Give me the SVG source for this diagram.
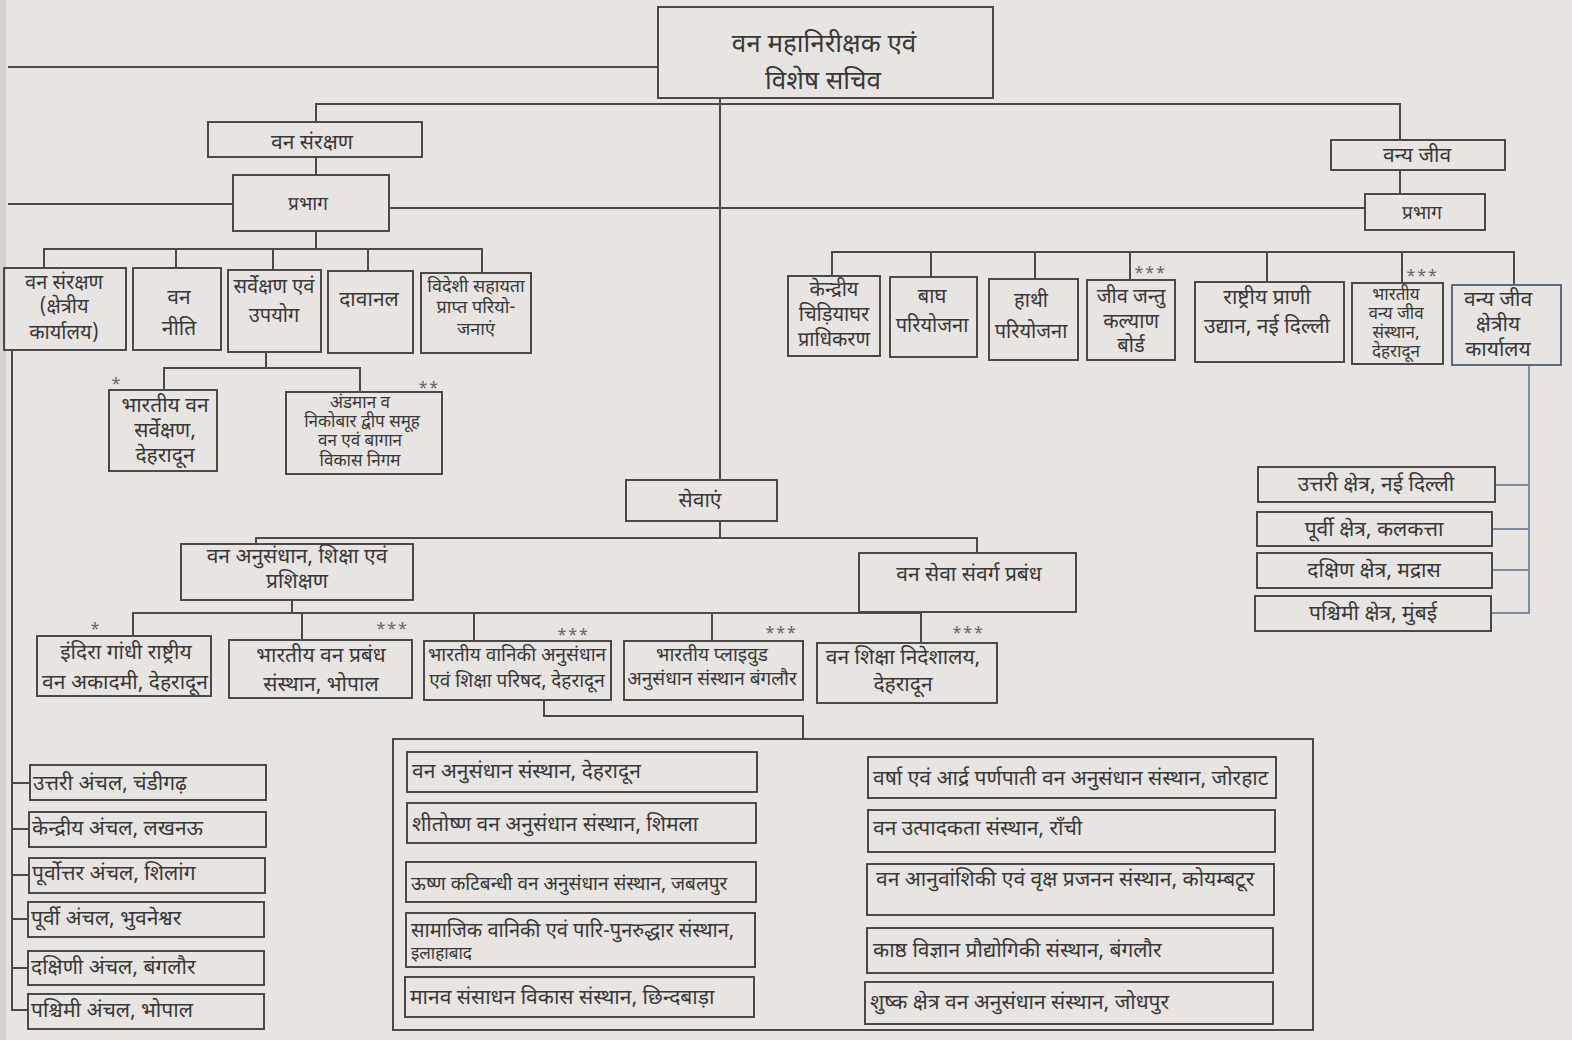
<svg xmlns="http://www.w3.org/2000/svg" width="1572" height="1040" viewBox="0 0 1572 1040">
<style>
.bg{fill:#e7e4e1}
.b{fill:none;stroke:#4a4a4a;stroke-width:2}
.bb{fill:none;stroke:#5e6a7a;stroke-width:2}
.l{fill:none;stroke:#4a4a4a;stroke-width:2}
.lb{fill:none;stroke:#7d8ca3;stroke-width:2}
text{font-family:"Noto Sans Devanagari","Lohit Devanagari","Mukta","Noto Sans",sans-serif;fill:#383838;font-size:21px}
.c{text-anchor:middle}
.big{font-size:26px}
.m{font-size:20px}
.n{font-size:19px}
.r{font-size:18px}
.s{font-size:17px}
.t{font-size:17px}
.st{font-size:16px;fill:#666;letter-spacing:1px}
</style>
<rect class="bg" x="0" y="0" width="1572" height="1040"/>
<rect x="0" y="0" width="6" height="1040" fill="#d6d3d0"/>

<g id="connectors">
<path class="l" d="M8 67 H658"/>
<path class="l" d="M720 98 V480"/>
<path class="l" d="M316 122 V104 H1400 V140"/>
<path class="l" d="M316 157 V175"/>
<path class="l" d="M8 204 H233"/>
<path class="l" d="M389 208 H1365"/>
<path class="l" d="M1400 170 V194"/>
<path class="l" d="M316 231 V249"/>
<path class="l" d="M44 268 V249 H482 V273"/>
<path class="l" d="M176 249 V268 M273 249 V270 M368 249 V271"/>
<path class="l" d="M266 352 V368"/>
<path class="l" d="M164 390 V368 H360 V392"/>
<path class="l" d="M12 350 V1010 H28"/>
<path class="l" d="M12 783 H30 M12 829 H29 M12 875 H29 M12 919 H28 M12 968 H28"/>
<path class="l" d="M720 521 V538"/>
<path class="l" d="M256 544 V538 H977 V553"/>
<path class="l" d="M292 600 V613"/>
<path class="l" d="M133 636 V613 H921 V643"/>
<path class="l" d="M302 613 V640 M474 613 V641 M712 613 V641"/>
<path class="l" d="M544 700 V716 H803 V739"/>
<path class="l" d="M832 276 V252 H1514 V285"/>
<path class="l" d="M931 252 V277 M1035 252 V279 M1130 252 V280 M1267 252 V282 M1402 252 V283"/>
<path class="lb" d="M1529 365 V613 H1491"/>
<path class="lb" d="M1495 485 H1529 M1492 529 H1529 M1492 570 H1529"/>
</g>

<g id="n-top"><rect class="b" x="658" y="7" width="335" height="91"/>
<text class="c big" x="824" y="52">वन महानिरीक्षक एवं</text>
<text class="c big" x="823" y="89">विशेष सचिव</text></g>

<g id="n-vansanrakshan"><rect class="b" x="208" y="122" width="214" height="35"/>
<text class="c" x="312" y="149">वन संरक्षण</text></g>
<g id="n-prabhag1"><rect class="b" x="233" y="175" width="156" height="56"/>
<text class="c n" x="308" y="210">प्रभाग</text></g>

<g id="n-vanyajeev"><rect class="b" x="1331" y="140" width="174" height="30"/>
<text class="c" x="1417" y="162">वन्य जीव</text></g>
<g id="n-prabhag2"><rect class="b" x="1365" y="194" width="120" height="36"/>
<text class="c n" x="1422" y="219">प्रभाग</text></g>

<g id="n-kshetriya"><rect class="b" x="4" y="268" width="122" height="82"/>
<text class="c m" x="64" y="289">वन संरक्षण</text>
<text class="c m" x="64" y="313">(क्षेत्रीय</text>
<text class="c m" x="64" y="339">कार्यालय)</text></g>
<g id="n-neeti"><rect class="b" x="133" y="268" width="88" height="82"/>
<text class="c" x="179" y="304">वन</text>
<text class="c" x="179" y="335">नीति</text></g>
<g id="n-sarvekshan"><rect class="b" x="228" y="270" width="93" height="82"/>
<text class="c m" x="274" y="293">सर्वेक्षण एवं</text>
<text class="c m" x="274" y="322">उपयोग</text></g>
<g id="n-davanal"><rect class="b" x="328" y="271" width="85" height="82"/>
<text class="c" x="369" y="306">दावानल</text></g>
<g id="n-videshi"><rect class="b" x="421" y="273" width="110" height="80"/>
<text class="c r" x="476" y="292">विदेशी सहायता</text>
<text class="c r" x="476" y="313">प्राप्त परियो-</text>
<text class="c r" x="476" y="335">जनाएं</text></g>

<g id="n-bvs"><rect class="b" x="109" y="390" width="108" height="81"/>
<text class="st" x="111" y="389">*</text>
<text class="c" x="165" y="412">भारतीय वन</text>
<text class="c" x="165" y="437">सर्वेक्षण,</text>
<text class="c" x="165" y="462">देहरादून</text></g>
<g id="n-andaman"><rect class="b" x="286" y="392" width="156" height="82"/>
<text class="st" x="418" y="393">**</text>
<text class="c t" x="360" y="408">अंडमान व</text>
<text class="c t" x="362" y="427">निकोबार द्वीप समूह</text>
<text class="c t" x="360" y="446">वन एवं बागान</text>
<text class="c t" x="360" y="466">विकास निगम</text></g>

<g id="n-uttari"><rect class="b" x="30" y="765" width="236" height="35"/>
<text x="33" y="790">उत्तरी अंचल, चंडीगढ़</text></g>
<g id="n-kendriya"><rect class="b" x="29" y="812" width="237" height="35"/>
<text x="32" y="835">केन्द्रीय अंचल, लखनऊ</text></g>
<g id="n-purvottar"><rect class="b" x="29" y="858" width="236" height="35"/>
<text x="32" y="880">पूर्वोत्तर अंचल, शिलांग</text></g>
<g id="n-purvi"><rect class="b" x="28" y="902" width="236" height="35"/>
<text x="31" y="925">पूर्वी अंचल, भुवनेश्वर</text></g>
<g id="n-dakshini"><rect class="b" x="28" y="951" width="236" height="34"/>
<text x="31" y="974">दक्षिणी अंचल, बंगलौर</text></g>
<g id="n-pashchimi"><rect class="b" x="28" y="994" width="236" height="35"/>
<text x="31" y="1017">पश्चिमी अंचल, भोपाल</text></g>

<g id="n-sevayen"><rect class="b" x="626" y="480" width="151" height="41"/>
<text class="c" x="700" y="507">सेवाएं</text></g>
<g id="n-anusandhan"><rect class="b" x="181" y="544" width="232" height="56"/>
<text class="c" x="297" y="563">वन अनुसंधान, शिक्षा एवं</text>
<text class="c" x="297" y="588">प्रशिक्षण</text></g>
<g id="n-sevasanvarg"><rect class="b" x="859" y="553" width="217" height="59"/>
<text class="c" x="969" y="581">वन सेवा संवर्ग प्रबंध</text></g>

<g id="n-indira"><rect class="b" x="37" y="636" width="174" height="60"/>
<text class="st" x="90" y="634">*</text>
<text class="c" x="126" y="659">इंदिरा गांधी  राष्ट्रीय</text>
<text class="c" x="125" y="689">वन अकादमी, देहरादून</text></g>
<g id="n-prabandh"><rect class="b" x="229" y="640" width="183" height="58"/>
<text class="st" x="376" y="634">***</text>
<text class="c" x="321" y="662">भारतीय वन प्रबंध</text>
<text class="c" x="321" y="691">संस्थान, भोपाल</text></g>
<g id="n-icfre"><rect class="b" x="424" y="641" width="187" height="59"/>
<text class="st" x="557" y="640">***</text>
<text class="c n" x="517" y="661">भारतीय वानिकी अनुसंधान</text>
<text class="c n" x="517" y="687">एवं शिक्षा परिषद, देहरादून</text></g>
<g id="n-plywood"><rect class="b" x="624" y="641" width="179" height="59"/>
<text class="st" x="765" y="638">***</text>
<text class="c n" x="712" y="661">भारतीय प्लाइवुड</text>
<text class="c n" x="712" y="685">अनुसंधान संस्थान बंगलौर</text></g>
<g id="n-nideshalay"><rect class="b" x="817" y="643" width="180" height="60"/>
<text class="st" x="952" y="638">***</text>
<text class="c" x="903" y="664">वन शिक्षा निदेशालय,</text>
<text class="c" x="903" y="691">देहरादून</text></g>

<g id="n-sansthan-container"><rect class="b" x="393" y="739" width="920" height="291"/></g>
<g id="n-fri"><rect class="b" x="407" y="752" width="350" height="40"/>
<text x="412" y="778">वन अनुसंधान संस्थान, देहरादून</text></g>
<g id="n-shimla"><rect class="b" x="407" y="803" width="349" height="40"/>
<text x="412" y="831">शीतोष्ण वन अनुसंधान संस्थान, शिमला</text></g>
<g id="n-jabalpur"><rect class="b" x="406" y="862" width="350" height="40"/>
<text class="n" x="411" y="890">ऊष्ण कटिबन्धी वन अनुसंधान संस्थान, जबलपुर</text></g>
<g id="n-allahabad"><rect class="b" x="406" y="913" width="349" height="54"/>
<text class="m" x="411" y="937">सामाजिक वानिकी एवं पारि-पुनरुद्धार संस्थान,</text>
<text class="s" x="411" y="959">इलाहाबाद</text></g>
<g id="n-chhindwara"><rect class="b" x="405" y="977" width="349" height="40"/>
<text x="410" y="1004">मानव संसाधन विकास संस्थान, छिन्दबाड़ा</text></g>

<g id="n-jorhat"><rect class="b" x="868" y="757" width="408" height="41"/>
<text x="873" y="785">वर्षा एवं आर्द्र पर्णपाती वन अनुसंधान संस्थान, जोरहाट</text></g>
<g id="n-ranchi"><rect class="b" x="868" y="810" width="407" height="42"/>
<text x="873" y="835">वन उत्पादकता संस्थान, राँची</text></g>
<g id="n-coimbatore"><rect class="b" x="867" y="864" width="407" height="51"/>
<text x="876" y="886">वन आनुवांशिकी एवं वृक्ष प्रजनन संस्थान, कोयम्बटूर</text></g>
<g id="n-bangalore-wood"><rect class="b" x="867" y="928" width="406" height="45"/>
<text x="873" y="957">काष्ठ विज्ञान प्रौद्योगिकी संस्थान, बंगलौर</text></g>
<g id="n-jodhpur"><rect class="b" x="865" y="982" width="408" height="42"/>
<text x="870" y="1009">शुष्क क्षेत्र वन अनुसंधान संस्थान, जोधपुर</text></g>

<g id="n-zoo"><rect class="b" x="788" y="276" width="92" height="80"/>
<text class="c m" x="834" y="296">केन्द्रीय</text>
<text class="c m" x="834" y="321">चिड़ियाघर</text>
<text class="c m" x="834" y="346">प्राधिकरण</text></g>
<g id="n-bagh"><rect class="b" x="890" y="277" width="87" height="80"/>
<text class="c m" x="932" y="303">बाघ</text>
<text class="c m" x="932" y="332">परियोजना</text></g>
<g id="n-hathi"><rect class="b" x="989" y="279" width="89" height="81"/>
<text class="c m" x="1031" y="307">हाथी</text>
<text class="c m" x="1031" y="338">परियोजना</text></g>
<g id="n-awbi"><rect class="b" x="1087" y="280" width="88" height="80"/>
<text class="st" x="1134" y="278">***</text>
<text class="c m" x="1131" y="303">जीव जन्तु</text>
<text class="c m" x="1131" y="328">कल्याण</text>
<text class="c m" x="1131" y="352">बोर्ड</text></g>
<g id="n-nzp"><rect class="b" x="1195" y="282" width="149" height="80"/>
<text class="c" x="1267" y="304">राष्ट्रीय प्राणी</text>
<text class="c" x="1267" y="333">उद्यान, नई दिल्ली</text></g>
<g id="n-wii"><rect class="b" x="1352" y="283" width="91" height="81"/>
<text class="st" x="1406" y="281">***</text>
<text class="c t" x="1396" y="300">भारतीय</text>
<text class="c t" x="1396" y="319">वन्य जीव</text>
<text class="c t" x="1396" y="338">संस्थान,</text>
<text class="c t" x="1396" y="357">देहरादून</text></g>
<g id="n-wro"><rect class="bb" x="1452" y="285" width="109" height="80"/>
<text class="c" x="1498" y="306">वन्य जीव</text>
<text class="c" x="1498" y="331">क्षेत्रीय</text>
<text class="c" x="1498" y="356">कार्यालय</text></g>

<g id="n-north"><rect class="b" x="1258" y="467" width="237" height="35"/>
<text class="c" x="1376" y="491">उत्तरी क्षेत्र, नई दिल्ली</text></g>
<g id="n-east"><rect class="b" x="1257" y="512" width="235" height="34"/>
<text class="c" x="1374" y="536">पूर्वी क्षेत्र, कलकत्ता</text></g>
<g id="n-south"><rect class="b" x="1257" y="553" width="235" height="35"/>
<text class="c" x="1374" y="577">दक्षिण क्षेत्र, मद्रास</text></g>
<g id="n-west"><rect class="b" x="1255" y="596" width="236" height="35"/>
<text class="c" x="1373" y="620">पश्चिमी क्षेत्र, मुंबई</text></g>
</svg>
